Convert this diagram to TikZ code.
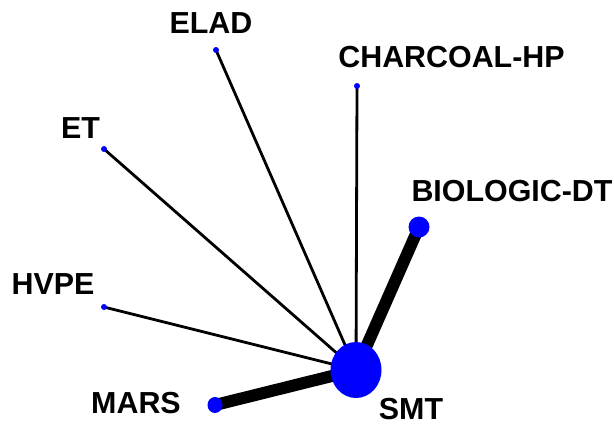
\documentclass[tikz,border=0pt]{standalone}
\usepackage{fontspec}
\setmainfont{Liberation Sans}
\usetikzlibrary{shapes.geometric,backgrounds}
\begin{document}
\begin{tikzpicture}[x=1bp,y=-1bp,
  vertex/.style={ellipse,fill={rgb,255:red,0;green,0;blue,255},draw=none,inner sep=0pt},
  lbl/.style={font=\fontsize{30.4bp}{36bp}\selectfont\bfseries,inner sep=0pt,anchor=center},
  thin edge/.style={line width=2.8bp,black},
  thick edge/.style={line width=#1,black}]
\useasboundingbox (0,0) rectangle (614,426);

% treatment nodes (size ~ number of patients)
\node[vertex,minimum width=51bp,minimum height=56bp] (smt) at (356,370) {};
\node[vertex,minimum width=21bp,minimum height=21bp] (bio) at (419,227) {};
\node[vertex,minimum width=15bp,minimum height=16bp] (mars) at (215,405) {};
\node[vertex,minimum size=6bp] (elad) at (216,50) {};
\node[vertex,minimum size=6bp] (char) at (357,86) {};
\node[vertex,minimum size=6bp] (et) at (104,149) {};
\node[vertex,minimum size=6bp] (hvpe) at (104,307) {};

% comparisons (width ~ number of trials)
\begin{scope}[on background layer]
  \draw[thick edge=12bp] (smt.center) -- (bio.center);
  \draw[thick edge=12bp] (smt.center) -- (mars.center);
  \draw[thin edge] (smt.center) -- (elad.center);
  \draw[thin edge] (smt.center) -- (char.center);
  \draw[thin edge] (smt.center) -- (et.center);
  \draw[thin edge] (smt.center) -- (hvpe.center);
\end{scope}

% labels
\node[lbl] (lelad) at (211,23) {ELAD};
\node[lbl] (lchar) at (451.5,57.5) {CHARCOAL-HP};
\node[lbl] (let) at (80.5,128) {ET};
\node[lbl] (lbio) at (512,191) {BIOLOGIC-DT};
\node[lbl] (lhvpe) at (53,284) {HVPE};
\node[lbl] (lmars) at (136,403) {MARS};
\node[lbl] (lsmt) at (411,409) {SMT};
\end{tikzpicture}
\end{document}
